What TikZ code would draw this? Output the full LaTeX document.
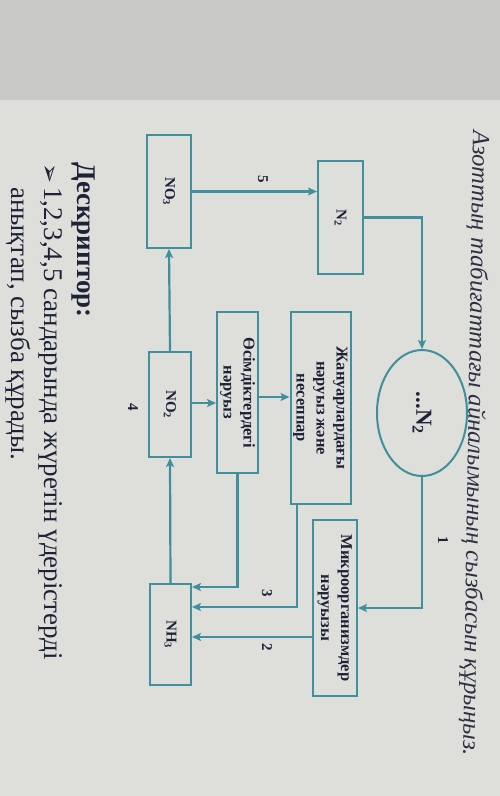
\documentclass[tikz,border=0pt]{standalone}
\usepackage{fontspec}
\setmainfont{Liberation Serif}
\newfontfamily\dejavu{DejaVu Sans}
\usepackage{graphicx}
\usetikzlibrary{arrows.meta,shapes.geometric}
\definecolor{tealline}{HTML}{3F8F9C}
\definecolor{ink}{HTML}{1E2236}
\definecolor{pagebg}{HTML}{DEDFDB}
\definecolor{topbg}{HTML}{C9CAC8}
\begin{document}
\begin{tikzpicture}[x=1pt,y=-1pt,
  box/.style={draw=tealline, line width=2pt, inner sep=0pt, text=ink,
    font=\bfseries\fontsize{16.5}{20}\selectfont},
  chem/.style={box, font=\bfseries\fontsize{15}{18}\selectfont},
  arr/.style={draw=tealline, line width=2.2pt,
    -{Stealth[length=9pt,width=8pt,inset=2pt]}},
  lbl/.style={text=ink, font=\bfseries\fontsize{15}{18}\selectfont, rotate=-90, inner sep=0pt},
  txt/.style={text=ink, inner sep=0pt}]
\fill[pagebg] (0,0) rectangle (500,796);
\fill[topbg] (0,0) rectangle (500,100);
\useasboundingbox (0,0) rectangle (500,796);

% title
\node[txt, rotate=-90.9, anchor=base west, text=ink!85!gray,
  font=\itshape\fontsize{24.6}{28}\selectfont] (title) at (473,130)
  {Азоттың табиғаттағы айналымының сызбасын құрыңыз.};

% boxes
\node[chem, minimum width=44pt, minimum height=113pt] (no3) at (169,191.5)
  {\rotatebox{-90}{NO\textsubscript{3}}};
\node[chem, minimum width=45pt, minimum height=113pt] (n2) at (340.5,217.5)
  {\rotatebox{-90}{N\textsubscript{2}}};
\node[draw=tealline, line width=2pt, ellipse, inner sep=0pt,
  minimum width=90pt, minimum height=126pt, text=ink,
  font=\bfseries\fontsize{23}{26}\selectfont] (ell) at (422,413)
  {\rotatebox{-90}{...N\textsubscript{2}}};
\node[box, minimum width=44pt, minimum height=176pt] (micro) at (335,608)
  {\rotatebox{-90}{\begin{tabular}{@{}c@{}}Микроорганизмдер\\нәруызы\end{tabular}}};
\node[chem, minimum width=41pt, minimum height=101pt] (nh3) at (170.5,634.5)
  {\rotatebox{-90}{NH\textsubscript{3}}};
\node[box, minimum width=57pt, minimum height=192pt] (anim) at (320.5,408)
  {\rotatebox{-90}{\begin{tabular}{@{}c@{}}Жануарлардағы\\нәруыз және\\несеппар\end{tabular}}};
\node[box, minimum width=41pt, minimum height=161pt] (plant) at (237.5,392.5)
  {\rotatebox{-90}{\begin{tabular}{@{}c@{}}Өсімдіктердегі\\нәруыз\end{tabular}}};
\node[chem, minimum width=42pt, minimum height=105pt] (no2) at (170,404.5)
  {\rotatebox{-90}{NO\textsubscript{2}}};

% connectors
\draw[arr] (no3.east) -- (no3.east -| n2.west);
\draw[arr] (n2.east) -| (ell.north);
\draw[arr] (ell.south) |- (micro.east);
\draw[arr] (micro.west |- 0,637) -- (nh3.east |- 0,637);
\draw[arr] (anim.south -| 297,0) |- (nh3.east |- 0,607);
\draw[arr] (plant.south) |- (nh3.east |- 0,587);
\draw[arr] (no2.east |- 0,403) -- (plant.west |- 0,403);
\draw[arr] (plant.east |- 0,397) -- (anim.west |- 0,397);
\draw[arr] (nh3.north) -- (no2.south);
\draw[arr] (no2.north) -- (no3.south);

% number labels
\node[lbl] (l5) at (263,179) {5};
\node[lbl] (l1) at (443,540) {1};
\node[lbl] (l2) at (267,647) {2};
\node[lbl] (l3) at (267,593) {3};
\node[lbl] (l4) at (133,407) {4};

% descriptor
\node[txt, rotate=-90, anchor=base west, font=\bfseries\fontsize{27}{30}\selectfont]
  (desc) at (77,162) {Дескриптор:};
\node[txt, rotate=-90, anchor=base west, font=\fontsize{24}{26}\selectfont\dejavu]
  (bullet) at (42,163) {➢};
\node[txt, rotate=-90, anchor=base west, font=\fontsize{27}{30}\selectfont]
  (line1) at (44,187) {1,2,3,4,5 сандарында жүретін үдерістерді};
\node[txt, rotate=-90, anchor=base west, font=\fontsize{27}{30}\selectfont]
  (line2) at (12,187) {анықтап, сызба құрады.};
\end{tikzpicture}
\end{document}
